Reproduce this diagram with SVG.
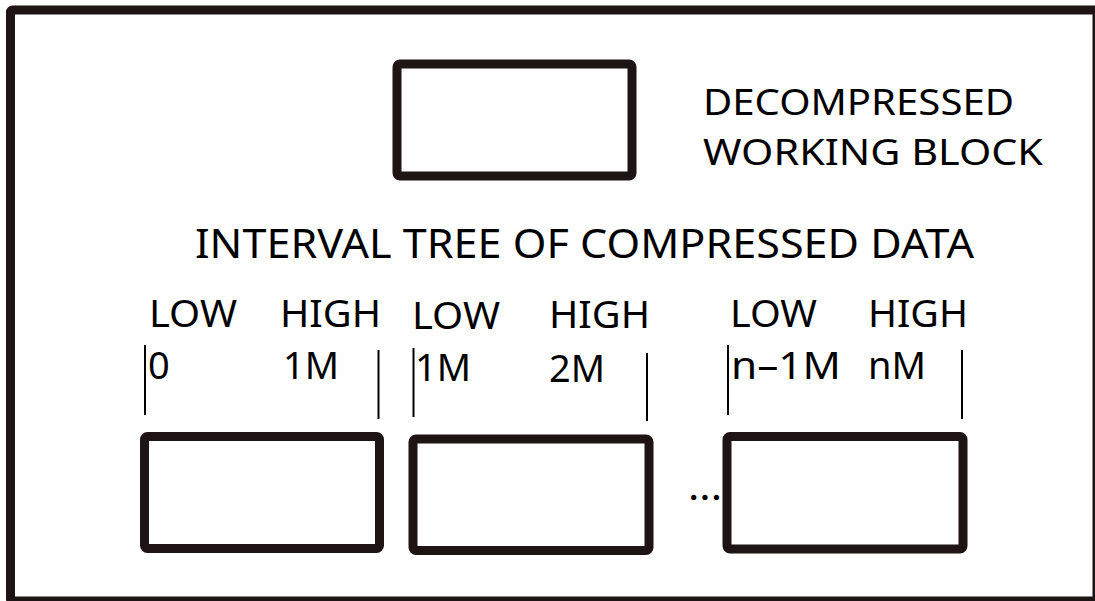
<svg xmlns="http://www.w3.org/2000/svg" width="1095" height="601" viewBox="0 0 1095 601">
  <style>
    .frame { fill: none; stroke: #1e1414; stroke-width: 9; }
    .box { fill: #ffffff; stroke: #1e1414; stroke-width: 9; stroke-linejoin: round; }
    .tick { stroke: #000000; stroke-width: 2; }
    .lbl { font-family: "Noto Sans", "Open Sans", sans-serif; font-size: 38px; fill: #000000; }
    .ttl { font-family: "Noto Sans", "Open Sans", sans-serif; font-size: 40px; fill: #000000; }
    .cap { font-family: "Noto Sans", "Open Sans", sans-serif; font-size: 36px; fill: #000000; }
  </style>
  <rect width="1095" height="601" fill="#ffffff"/>

  <!-- outer frame -->
  <rect class="frame" x="10.5" y="10" width="1086.5" height="591" rx="2"/>

  <g id="working-block">
    <rect class="box" x="397" y="64" width="235" height="112" rx="3"/>
    <text class="cap" x="703" y="115" textLength="311" lengthAdjust="spacingAndGlyphs">DECOMPRESSED</text>
    <text class="cap" x="703" y="165" textLength="340" lengthAdjust="spacingAndGlyphs">WORKING BLOCK</text>
  </g>

  <g id="tree-title">
    <text class="ttl" x="195" y="258" textLength="779" lengthAdjust="spacingAndGlyphs">INTERVAL TREE OF COMPRESSED DATA</text>
  </g>

  <g id="interval-1">
    <text class="lbl" x="149" y="327" textLength="88" lengthAdjust="spacingAndGlyphs">LOW</text>
    <text class="lbl" x="280" y="327" textLength="101" lengthAdjust="spacingAndGlyphs">HIGH</text>
    <text class="lbl" x="148" y="379">0</text>
    <text class="lbl" x="283" y="379" textLength="56" lengthAdjust="spacingAndGlyphs">1M</text>
    <rect class="box" x="144.5" y="436.5" width="235" height="112" rx="3"/>
  </g>

  <g id="interval-2">
    <text class="lbl" x="412" y="329" textLength="88" lengthAdjust="spacingAndGlyphs">LOW</text>
    <text class="lbl" x="549" y="328" textLength="101" lengthAdjust="spacingAndGlyphs">HIGH</text>
    <text class="lbl" x="415" y="381" textLength="56" lengthAdjust="spacingAndGlyphs">1M</text>
    <text class="lbl" x="549" y="382" textLength="56" lengthAdjust="spacingAndGlyphs">2M</text>
    <rect class="box" x="413" y="439" width="236" height="111.5" rx="3"/>
  </g>

  <g id="interval-n">
    <text class="lbl" x="730" y="327" textLength="87" lengthAdjust="spacingAndGlyphs">LOW</text>
    <text class="lbl" x="868" y="327" textLength="100" lengthAdjust="spacingAndGlyphs">HIGH</text>
    <text class="lbl" x="731" y="379" textLength="110" lengthAdjust="spacingAndGlyphs">n–1M</text>
    <text class="lbl" x="868" y="379" textLength="58" lengthAdjust="spacingAndGlyphs">nM</text>
    <rect class="box" x="727" y="436.5" width="236" height="112.5" rx="3"/>
  </g>

  <text class="lbl" x="688" y="500" textLength="34" lengthAdjust="spacingAndGlyphs">...</text>

  <g id="connectors">
    <line class="tick" x1="145" y1="345" x2="145" y2="415"/>
    <line class="tick" x1="378.5" y1="350" x2="378.5" y2="419"/>
    <line class="tick" x1="413.5" y1="348" x2="413.5" y2="417"/>
    <line class="tick" x1="647" y1="353" x2="647" y2="421"/>
    <line class="tick" x1="728" y1="345" x2="728" y2="415"/>
    <line class="tick" x1="962" y1="350" x2="962" y2="419"/>
  </g>
</svg>
